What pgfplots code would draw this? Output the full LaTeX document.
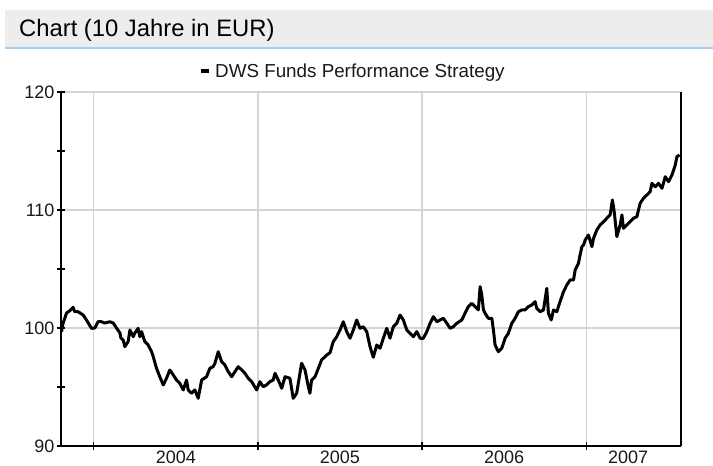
\documentclass[border=0pt]{standalone}
\usepackage{pgfplots}
\pgfplotsset{compat=1.18}
\usepackage{pgfplotstable}
\usepackage{fontspec}
\setmainfont{Liberation Sans}
\definecolor{hdrgray}{HTML}{EDEDED}
\definecolor{hdrblue}{HTML}{A9CDF2}
\definecolor{gridgray}{HTML}{D4D4D4}
\pgfplotstableread{
t v
2003.803 99.69
2003.813 100.42
2003.834 101.27
2003.854 101.47
2003.874 101.75
2003.884 101.38
2003.904 101.38
2003.935 101.10
2003.955 100.68
2003.986 99.97
2004.006 100.00
2004.026 100.53
2004.047 100.53
2004.067 100.42
2004.098 100.53
2004.118 100.42
2004.138 100.00
2004.159 99.58
2004.165 99.15
2004.179 98.98
2004.189 98.42
2004.209 98.84
2004.220 99.83
2004.240 99.26
2004.250 99.58
2004.270 99.97
2004.280 99.26
2004.291 99.69
2004.311 98.84
2004.331 98.56
2004.352 97.99
2004.362 97.57
2004.382 96.58
2004.402 95.87
2004.423 95.17
2004.443 95.74
2004.463 96.44
2004.484 96.02
2004.504 95.59
2004.524 95.31
2004.545 94.75
2004.565 95.59
2004.575 94.75
2004.596 94.47
2004.616 94.75
2004.636 94.04
2004.657 95.59
2004.687 95.87
2004.707 96.58
2004.727 96.72
2004.738 97.01
2004.758 97.99
2004.779 97.14
2004.799 96.86
2004.819 96.30
2004.840 95.87
2004.860 96.30
2004.880 96.72
2004.901 96.44
2004.921 96.16
2004.941 95.74
2004.962 95.45
2004.992 94.75
2005.012 95.45
2005.032 95.03
2005.053 95.17
2005.073 95.45
2005.093 95.59
2005.104 96.16
2005.124 95.59
2005.145 94.89
2005.165 95.87
2005.195 95.74
2005.215 94.04
2005.236 94.47
2005.256 96.16
2005.266 97.01
2005.287 96.44
2005.307 95.03
2005.317 94.47
2005.327 95.59
2005.348 95.87
2005.368 96.58
2005.388 97.29
2005.419 97.71
2005.439 97.90
2005.459 98.84
2005.480 99.26
2005.500 99.83
2005.520 100.53
2005.541 99.69
2005.561 99.13
2005.581 99.83
2005.602 100.68
2005.622 99.97
2005.642 100.11
2005.663 99.69
2005.683 98.42
2005.703 97.52
2005.724 98.56
2005.744 98.28
2005.764 99.13
2005.785 99.97
2005.805 99.13
2005.825 100.11
2005.846 100.40
2005.866 101.10
2005.886 100.68
2005.907 99.83
2005.927 99.55
2005.947 99.26
2005.968 99.69
2005.988 99.13
2006.008 99.13
2006.029 99.69
2006.049 100.40
2006.069 100.96
2006.090 100.53
2006.110 100.68
2006.130 100.82
2006.151 100.40
2006.171 99.97
2006.191 100.11
2006.212 100.40
2006.242 100.68
2006.262 101.25
2006.282 101.81
2006.303 102.09
2006.323 101.81
2006.343 101.53
2006.354 103.50
2006.364 102.80
2006.374 101.53
2006.384 101.25
2006.404 100.82
2006.425 100.82
2006.435 99.83
2006.445 98.56
2006.465 97.99
2006.486 98.28
2006.506 99.13
2006.526 99.55
2006.547 100.40
2006.567 100.82
2006.587 101.38
2006.608 101.53
2006.628 101.53
2006.648 101.81
2006.669 101.95
2006.689 102.23
2006.699 101.67
2006.720 101.38
2006.740 101.53
2006.760 103.36
2006.770 101.25
2006.787 100.68
2006.801 101.53
2006.821 101.38
2006.841 102.23
2006.862 103.08
2006.882 103.64
2006.902 104.07
2006.923 104.07
2006.933 104.92
2006.953 105.48
2006.963 106.19
2006.974 106.89
2006.984 107.03
2006.994 107.46
2007.014 107.88
2007.035 106.89
2007.045 107.60
2007.065 108.31
2007.085 108.73
2007.106 109.01
2007.126 109.30
2007.146 109.58
2007.160 110.85
2007.171 109.86
2007.187 107.74
2007.207 108.73
2007.218 109.58
2007.227 108.45
2007.248 108.73
2007.268 109.01
2007.288 109.30
2007.309 109.43
2007.319 110.00
2007.329 110.57
2007.349 110.99
2007.370 111.27
2007.390 111.55
2007.401 112.26
2007.421 111.97
2007.441 112.26
2007.462 111.84
2007.482 112.82
2007.502 112.40
2007.523 112.97
2007.543 113.81
2007.553 114.52
2007.569 114.66
}\fund
\begin{document}
\begin{tikzpicture}[x=1bp,y=1bp]
\useasboundingbox (0,0) rectangle (713,466);
\fill[hdrgray] (5,418.5) rectangle (713,456);
\fill[hdrblue] (5,416.5) rectangle (713,418.5);
\node[anchor=base west, inner sep=0pt, font=\fontsize{23.8bp}{26bp}\selectfont] at (19,429) {Chart (10 Jahre in EUR)};
\begin{axis}[
  at={(61bp,20bp)}, anchor=south west,
  scale only axis, width=620bp, height=354bp,
  xmin=2003.80, xmax=2007.578,
  ymin=90, ymax=120,
  axis x line*=bottom, axis y line*=left,
  axis line style={black, line width=1.3bp},
  xtick={2004,2005,2006,2007}, xticklabels={},
  ytick={90,100,110,120},
  minor ytick={95,105,115},
  tick align=center,
  major tick length=8bp, minor tick length=8bp,
  tick style={black, line width=1.2bp},
  ymajorgrids, xmajorgrids,
  major grid style={gridgray, line width=1.3bp},
  extra x ticks={2004.5,2005.5,2006.5,2007.256},
  extra x tick labels={2004,2005,2006,2007},
  extra x tick style={major tick length=0pt, xmajorgrids=false, tick style={draw=none}},
  ticklabel style={font=\fontsize{18bp}{20bp}\selectfont, text=black!90},
  /pgf/number format/assume math mode=true,
  yticklabel style={xshift=1bp},
  xticklabel style={yshift=-1bp},
  legend style={at={(0.2226,1)}, anchor=south west, yshift=13bp, draw=none, fill=none,
    inner sep=0pt, font=\fontsize{18.8bp}{20bp}\selectfont,
    nodes={inner sep=0pt, text=black!90}},
  legend image code/.code={\draw[line width=4.5bp, black] (0bp,0bp) -- (8bp,0bp);},
  legend cell align=left,
  /tikz/every odd column/.append style={column sep=3.5bp},
  clip=false,
]
\addplot[black, line width=3bp, line join=round] table[x=t, y=v] {\fund};
\addlegendentry{DWS Funds Performance Strategy}
\draw[black, line width=1.1bp] (rel axis cs:1,0) -- (rel axis cs:1,1);
\end{axis}
\end{tikzpicture}
\end{document}
